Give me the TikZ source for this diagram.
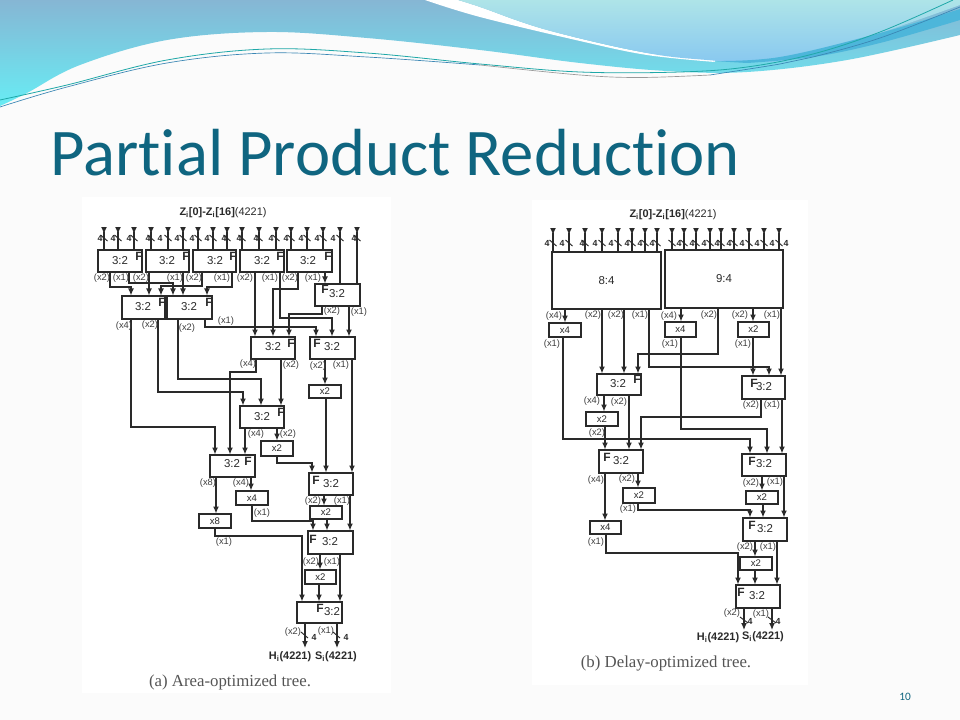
\documentclass[tikz,border=0pt]{standalone}
\usepackage{fontspec}
\setmainfont{Liberation Sans}
\newfontfamily\titlefont[Ligatures=NoCommon]{Carlito}
\newfontfamily\capfont{Liberation Serif}
\usetikzlibrary{arrows.meta,calc}
\definecolor{ttl}{HTML}{0F6580}
\definecolor{ink}{HTML}{2A2A2A}
\definecolor{HDa}{HTML}{86B6D4}
\definecolor{HDb}{HTML}{68ECF4}
\definecolor{HDc}{HTML}{AEE4E8}
\definecolor{HDd}{HTML}{88C8F0}
\definecolor{HDe}{HTML}{4DB6DA}
\definecolor{lnA}{HTML}{1FA8A8}
\definecolor{lnB}{HTML}{3A86B4}
\tikzset{
  wire/.style={draw=ink,line width=0.85pt,line join=miter},
  arr/.style={wire,-{Latex[length=5.2pt,width=4.4pt]}},
  slash/.style={draw=ink,line width=0.7pt},
  boxst/.style={draw=ink,line width=0.85pt,fill=white,inner sep=0pt,font=\fontsize{7.2pt}{8pt}\selectfont,text=ink},
  wl/.style={font=\fontsize{7pt}{8pt}\selectfont,text=ink!90,inner sep=0pt},
  four/.style={font=\fontsize{6.6pt}{7pt}\selectfont\bfseries,text=ink,inner sep=0pt},
  fm/.style={font=\fontsize{9pt}{10pt}\selectfont\bfseries,text=ink,inner sep=0pt},
  tt/.style={font=\fontsize{8.6pt}{9pt}\selectfont,text=ink,inner sep=0pt},
  head/.style={font=\fontsize{8.2pt}{9pt}\selectfont,text=ink,inner sep=0pt},
  headb/.style={font=\fontsize{8.2pt}{9pt}\selectfont\bfseries,text=ink,inner sep=0pt},
  captext/.style={font=\capfont\fontsize{12.6pt}{14pt}\selectfont,text=ink!80,inner sep=0pt}
}
\newcount\lbc
\newcommand{\wlab}[3]{\global\advance\lbc by 1 \node[wl] (lab\the\lbc) at (#1,#2) {#3};}
\newcommand{\plainbox}[6]{\node[boxst,minimum width={(#4-#2)*0.75pt},minimum height={(#5-#3)*0.75pt}] (#1) at ({(#2+#4)/2},{(#3+#5)/2}) {#6};}
\newcommand{\adder}[9]{\node[boxst,minimum width={(#4-#2)*0.75pt},minimum height={(#5-#3)*0.75pt}] (#1) at ({(#2+#4)/2},{(#3+#5)/2}) {};
  \node[fm] (#1f) at (#6,#7) {F}; \node[tt] (#1t) at (#8,#9) {3:2};}
\begin{document}
\begin{tikzpicture}[x=0.75pt,y=-0.75pt]
\useasboundingbox (0,0) rectangle (960,720);
\fill[white!98.5!black] (0,0) rectangle (960,720);
% header
\path[top color=HDa,bottom color=HDb] (0,0) -- (960,0) -- plot[smooth,tension=0.6] coordinates {(960,35) (847,60) (747,72) (667,71) (580,63) (480,50) (367,38) (267,32) (167,40) (80,65) (27,93) (0,106)} -- cycle;
\fill[white] (425,0) -- plot[smooth,tension=0.6] coordinates {(425,0) (480,17) (580,41) (647,55) (715,62)} -- (715,58) -- plot[smooth,tension=0.6] coordinates {(715,58) (647,53) (547,30) (480,7) (458,0)} -- cycle;
\path[top color=HDc,bottom color=HDd] (458,0) -- plot[smooth,tension=0.6] coordinates {(458,0) (480,7) (547,30) (647,53) (707,60) (750,62) (800,58) (880,33) (960,5)} -- (960,0) -- cycle;
\fill[HDe] plot[smooth,tension=0.6] coordinates {(713,61) (780,57) (880,33) (960,9)} -- plot[smooth,tension=0.6] coordinates {(960,20) (880,43) (813,57) (747,63)} -- cycle;
\draw[lnA,line width=0.6pt] plot[smooth,tension=0.6] coordinates {(0,100) (67,85) (167,60) (267,49) (367,53) (480,64) (580,72) (680,72) (747,67) (813,54) (880,32) (953,0)};
\draw[lnB,line width=0.5pt] plot[smooth,tension=0.6] coordinates {(0,107) (67,87) (167,63) (267,53) (367,57) (480,65)};
\draw[black!40,line width=0.5pt] plot[smooth,tension=0.6] coordinates {(480,65) (580,75) (640,77.5) (710,75)};
\draw[lnB,line width=0.5pt] plot[smooth,tension=0.6] coordinates {(710,75) (780,64) (813,57) (880,38) (960,7)};
% title, page number
\node[font=\titlefont\fontsize{50pt}{56pt}\selectfont,text=ttl,anchor=base west,inner sep=0pt] (title) at (50,176) {Partial Product Reduction};
\node[font=\titlefont\fontsize{8.5pt}{10pt}\selectfont,text=ttl,inner sep=0pt] (pageno) at (905,697) {10};
% panels
\fill[white] (82,197) rectangle (391,693);
\fill[white] (532,200) rectangle (808,685);
% ===== left tree boxes
\adder{b1}{98}{250}{142}{272}{139}{256}{120}{261}
\adder{b2}{146}{250}{189}{272}{186}{256}{167}{261}
\adder{b3}{193}{250}{236}{272}{233}{256}{215}{261}
\adder{b4}{240}{250}{284}{272}{280}{256}{262}{261}
\adder{b5}{287}{250}{332}{272}{328}{256}{308}{261}
\adder{b6}{315}{284}{360}{306}{325}{289}{337}{294}
\adder{b7}{122}{296}{165}{319}{162}{302}{143}{307}
\adder{b8}{167}{296}{212}{319}{209}{302}{189}{307}
\adder{b9}{251}{337}{295}{359}{291}{343}{273}{347}
\adder{b10}{310}{337}{355}{359}{317}{343}{332}{347}
\adder{b11}{240}{406}{284}{428}{281}{412}{262}{417}
\adder{b12}{210}{455}{255}{477}{248}{461}{232}{464}
\adder{b13}{309}{473}{353}{495}{316}{480}{331}{484}
\adder{b14}{308}{531}{353}{554}{313}{539}{330}{542}
\adder{b15}{297}{602}{342}{623}{320}{608}{332}{612}
\plainbox{a1}{309}{385}{341}{398}{x2}
\plainbox{a2}{261}{441}{293}{456}{x2}
\plainbox{a3}{310}{506}{342}{519}{x2}
\plainbox{a4}{305}{570}{336}{584}{x2}
\plainbox{a5}{236}{491}{268}{505}{x4}
\plainbox{a6}{199}{514}{231}{528}{x8}
% left inputs
\foreach \x/\b/\f in {104/b1/100,118/b1/113,134/b1/129,151/b2/148,168/b2/160,183/b2/177,198/b3/192,213/b3/207,227/b3/224,242/b4/239,259/b4/256,276/b4/271,291/b5/286,307/b5/301,323/b5/317,340/b6/333,357/b6/354}{
  \coordinate (in\x) at (\x,227);
  \draw[arr] (in\x) -- (\x,234);
  \draw[wire] (\x,232) -- (\b.north -| \x,0);
  \draw[slash] (\x-3.5,235) -- (\x+3.5,241);
  \node[four] (n\x) at (\f,238) {4};
}
% left connectors
\draw[arr] (b1.south -| 110,0) -- (110,287) -- (131,287) -- (b7.north -| 131,0);
\draw[arr] (b1.south -| 129,0) -- (129,283) -- (173,283) -- (b8.north -| 173,0);
\draw[arr] (b2.south -| 149,0) -- (b7.north -| 149,0);
\draw[arr] (b2.south -| 183,0) -- (b8.north -| 183,0);
\draw[arr] (b3.south -| 202,0) -- (202,286) -- (161,286) -- (b7.north -| 161,0);
\draw[arr] (b3.south -| 232,0) -- (232,287) -- (207,287) -- (b8.north -| 207,0);
\draw[arr] (b4.south -| 255,0) -- (b9.north -| 255,0);
\draw[arr] (b4.south -| 280,0) -- (280,318) -- (332,318) -- (b10.north -| 332,0);
\draw[arr] (b5.south -| 298,0) -- (298,289) -- (273,289) -- (b9.north -| 273,0);
\draw[arr] (b5.south -| 325,0) -- (b6.north -| 325,0);
\draw[arr] (b6.south -| 322,0) -- (322,314) -- (289,314) -- (b9.north -| 289,0);
\draw[arr] (b6.south -| 349,0) -- (b10.north -| 349,0);
\draw[arr] (b7.south -| 131,0) -- (131,427) -- (215,427) -- (b12.north -| 215,0);
\draw[arr] (b7.south -| 158,0) -- (158,392) -- (243,392) -- (b11.north -| 243,0);
\draw[arr] (b8.south -| 178,0) -- (178,379) -- (261,379) -- (b11.north -| 261,0);
\draw[arr] (b8.south -| 205,0) -- (205,327) -- (316,327) -- (b10.north -| 316,0);
\draw[arr] (b9.south -| 256,0) -- (256,372) -- (230,372) -- (b12.north -| 230,0);
\draw[arr] (b9.south -| 281,0) -- (b11.north -| 281,0);
\draw[arr] (b10.south -| 325,0) -- (a1.north -| 325,0);
\draw[arr] (b10.south -| 352,0) -- (b13.north -| 352,0);
\draw[arr] (a1.south -| 326,0) -- (b13.north -| 326,0);
\draw[arr] (b11.south -| 245,0) -- (b12.north -| 245,0);
\draw[arr] (b11.south -| 277,0) -- (a2.north -| 277,0);
\draw[arr] (a2.south -| 277,0) -- (277,463) -- (312,463) -- (b13.north -| 312,0);
\draw[arr] (b12.south -| 216,0) -- (a6.north -| 216,0);
\draw[arr] (b12.south -| 251,0) -- (a5.north -| 251,0);
\draw[arr] (a5.south -| 252,0) -- (252,521) -- (313,521) -- (b14.north -| 313,0);
\draw[arr] (b13.south -| 324,0) -- (a3.north -| 324,0);
\draw[arr] (a3.south -| 327,0) -- (b14.north -| 327,0);
\draw[arr] (b13.south -| 350,0) -- (b14.north -| 350,0);
\draw[arr] (a6.south -| 215,0) -- (215,536) -- (302,536) -- (b15.north -| 302,0);
\draw[arr] (b14.south -| 320,0) -- (a4.north -| 320,0);
\draw[arr] (a4.south -| 319,0) -- (b15.north -| 319,0);
\draw[arr] (b14.south -| 340,0) -- (b15.north -| 340,0);
\coordinate (hout) at (305,648);
\coordinate (sout) at (337,648);
\draw[arr] (b15.south -| hout) -- (hout);
\draw[arr] (b15.south -| sout) -- (sout);
\draw[slash] (301,632) -- (308,638);
\draw[slash] (333,632) -- (340,638);
\node[four] (nh) at (314,637) {4};
\node[four] (ns) at (346,637) {4};
% left labels
\foreach \x/\y/\t in {102/278/x2,121/278/x1,141/278/x2,175/278/x1,194/278/x2,222/278/x1,245/278/x2,270/278/x1,290/278/x2,313/278/x1,332/311/x2,359/312/x1,124/326/x4,150/325/x2,187/328/x2,226/321/x1,248/364/x4,291/365/x2,318/366/x2,341/365/x1,256/434/x4,288/434/x2,208/483/x8,241/483/x4,262/513/x1,313/501/x2,342/501/x1,224/542/x1,311/562/x2,332/562/x1,293/632/x2,326/631/x1}{\wlab{\x}{\y}{(\t)}}
\node[head] (ztl) at (223,213) {\textbf{Z\textsubscript{i}[0]-Z\textsubscript{i}[16]}(4221)};
\node[headb] (hl) at (290,657) {H\textsubscript{i}(4221)};
\node[headb] (sl) at (336,657) {S\textsubscript{i}(4221)};
\node[captext] (capa) at (230,682) {(a) Area-optimized tree.};
% ===== right tree boxes
\plainbox{r1}{552}{252}{661}{309}{\fontsize{8.6pt}{9pt}\selectfont 8:4}
\plainbox{r2}{665}{250}{783}{308}{\fontsize{8.6pt}{9pt}\selectfont 9:4}
\adder{r3}{597}{374}{641}{395}{637}{379}{618}{384}
\adder{r4}{742}{376}{785}{399}{754}{383}{764}{387}
\adder{r5}{599}{450}{643}{473}{607}{457}{621}{461}
\adder{r6}{742}{454}{786}{476}{752}{461}{764}{464}
\adder{r7}{743}{518}{787}{541}{752}{525}{765}{529}
\adder{r8}{736}{585}{780}{608}{741}{592}{757}{596}
\plainbox{c1}{549}{323}{581}{337}{x4}
\plainbox{c2}{665}{322}{696}{337}{x4}
\plainbox{c3}{738}{322}{769}{337}{x2}
\plainbox{c4}{586}{412}{618}{426}{x2}
\plainbox{c5}{590}{521}{621}{534}{x4}
\plainbox{c6}{623}{488}{655}{503}{x2}
\plainbox{c7}{746}{491}{778}{504}{x2}
\plainbox{c8}{740}{557}{772}{570}{x2}
% right inputs
\foreach \x/\b/\f in {553/r1/547,569/r1/562,585/r1/582,602/r1/595,618/r1/611,632/r1/627,645/r1/640,657/r1/652,672/r2/679,684/r2/692,696/r2/704,710/r2/717,721/r2/729,734/r2/742,749/r2/757,764/r2/772,779/r2/786}{
  \coordinate (in\x) at (\x,228);
  \draw[arr] (in\x) -- (\x,235);
  \draw[wire] (\x,233) -- (\b.north -| \x,0);
  \draw[slash] (\x-3.5,240) -- (\x+3.5,246);
  \node[four] (n\x) at (\f,243) {4};
}
% right connectors
\draw[arr] (r1.south -| 565,0) -- (c1.north -| 565,0);
\draw[arr] (r1.south -| 602,0) -- (r3.north -| 602,0);
\draw[arr] (r1.south -| 624,0) -- (r3.north -| 624,0);
\draw[arr] (r1.south -| 649,0) -- (649,367) -- (769,367) -- (r4.north -| 769,0);
\draw[arr] (r2.south -| 681,0) -- (c2.north -| 681,0);
\draw[arr] (r2.south -| 718,0) -- (718,354) -- (638,354) -- (r3.north -| 638,0);
\draw[arr] (r2.south -| 753,0) -- (c3.north -| 753,0);
\draw[arr] (r2.south -| 781,0) -- (r4.north -| 781,0);
\draw[arr] (c3.south -| 753,0) -- (r4.north -| 753,0);
\draw[arr] (c1.south -| 563,0) -- (563,439) -- (750,439) -- (r6.north -| 750,0);
\draw[arr] (c2.south -| 681,0) -- (681,429) -- (767,429) -- (r6.north -| 767,0);
\draw[arr] (r3.south -| 604,0) -- (c4.north -| 604,0);
\draw[arr] (c4.south -| 605,0) -- (r5.north -| 605,0);
\draw[arr] (r3.south -| 629,0) -- (r5.north -| 629,0);
\draw[arr] (r4.south -| 761,0) -- (761,417) -- (641,417) -- (r5.north -| 641,0);
\draw[arr] (r4.south -| 782,0) -- (r6.north -| 782,0);
\draw[arr] (r5.south -| 605,0) -- (c5.north -| 605,0);
\draw[arr] (r5.south -| 638,0) -- (c6.north -| 638,0);
\draw[arr] (c6.south -| 638,0) -- (638,510) -- (750,510) -- (r7.north -| 750,0);
\draw[arr] (r6.south -| 762,0) -- (c7.north -| 762,0);
\draw[arr] (c7.south -| 763,0) -- (r7.north -| 763,0);
\draw[arr] (r6.south -| 784,0) -- (r7.north -| 784,0);
\draw[arr] (c5.south -| 606,0) -- (606,553) -- (738,553) -- (r8.north -| 738,0);
\draw[arr] (r7.south -| 755,0) -- (c8.north -| 755,0);
\draw[arr] (c8.south -| 755,0) -- (r8.north -| 755,0);
\draw[arr] (r7.south -| 777,0) -- (r8.north -| 777,0);
\coordinate (hout2) at (744,630);
\coordinate (sout2) at (772,630);
\draw[arr] (r8.south -| hout2) -- (hout2);
\draw[arr] (r8.south -| sout2) -- (sout2);
\draw[slash] (740,617) -- (748,623);
\draw[slash] (768,617) -- (776,623);
\node[four] (nh2) at (750,621) {4};
\node[four] (ns2) at (778,621) {4};
% right labels
\foreach \x/\y/\t in {554/316/x4,593/315/x2,616/315/x2,640/315/x1,669/316/x4,709/315/x2,740/315/x2,772/315/x1,552/344/x1,670/344/x1,743/344/x1,592/401/x4,619/402/x2,751/405/x2,772/405/x1,597/433/x2,596/480/x4,627/479/x2,628/509/x1,596/542/x1,751/483/x2,775/482/x1,745/547/x2,768/547/x1,732/613/x2,761/614/x1}{\wlab{\x}{\y}{(\t)}}
\node[head] (ztr) at (673,215) {\textbf{Z\textsubscript{i}[0]-Z\textsubscript{i}[16]}(4221)};
\node[headb] (hr) at (718,638) {H\textsubscript{i}(4221)};
\node[headb] (sr) at (763,637) {S\textsubscript{i}(4221)};
\node[captext] (capb) at (666,663) {(b) Delay-optimized tree.};
\end{tikzpicture}
\end{document}
